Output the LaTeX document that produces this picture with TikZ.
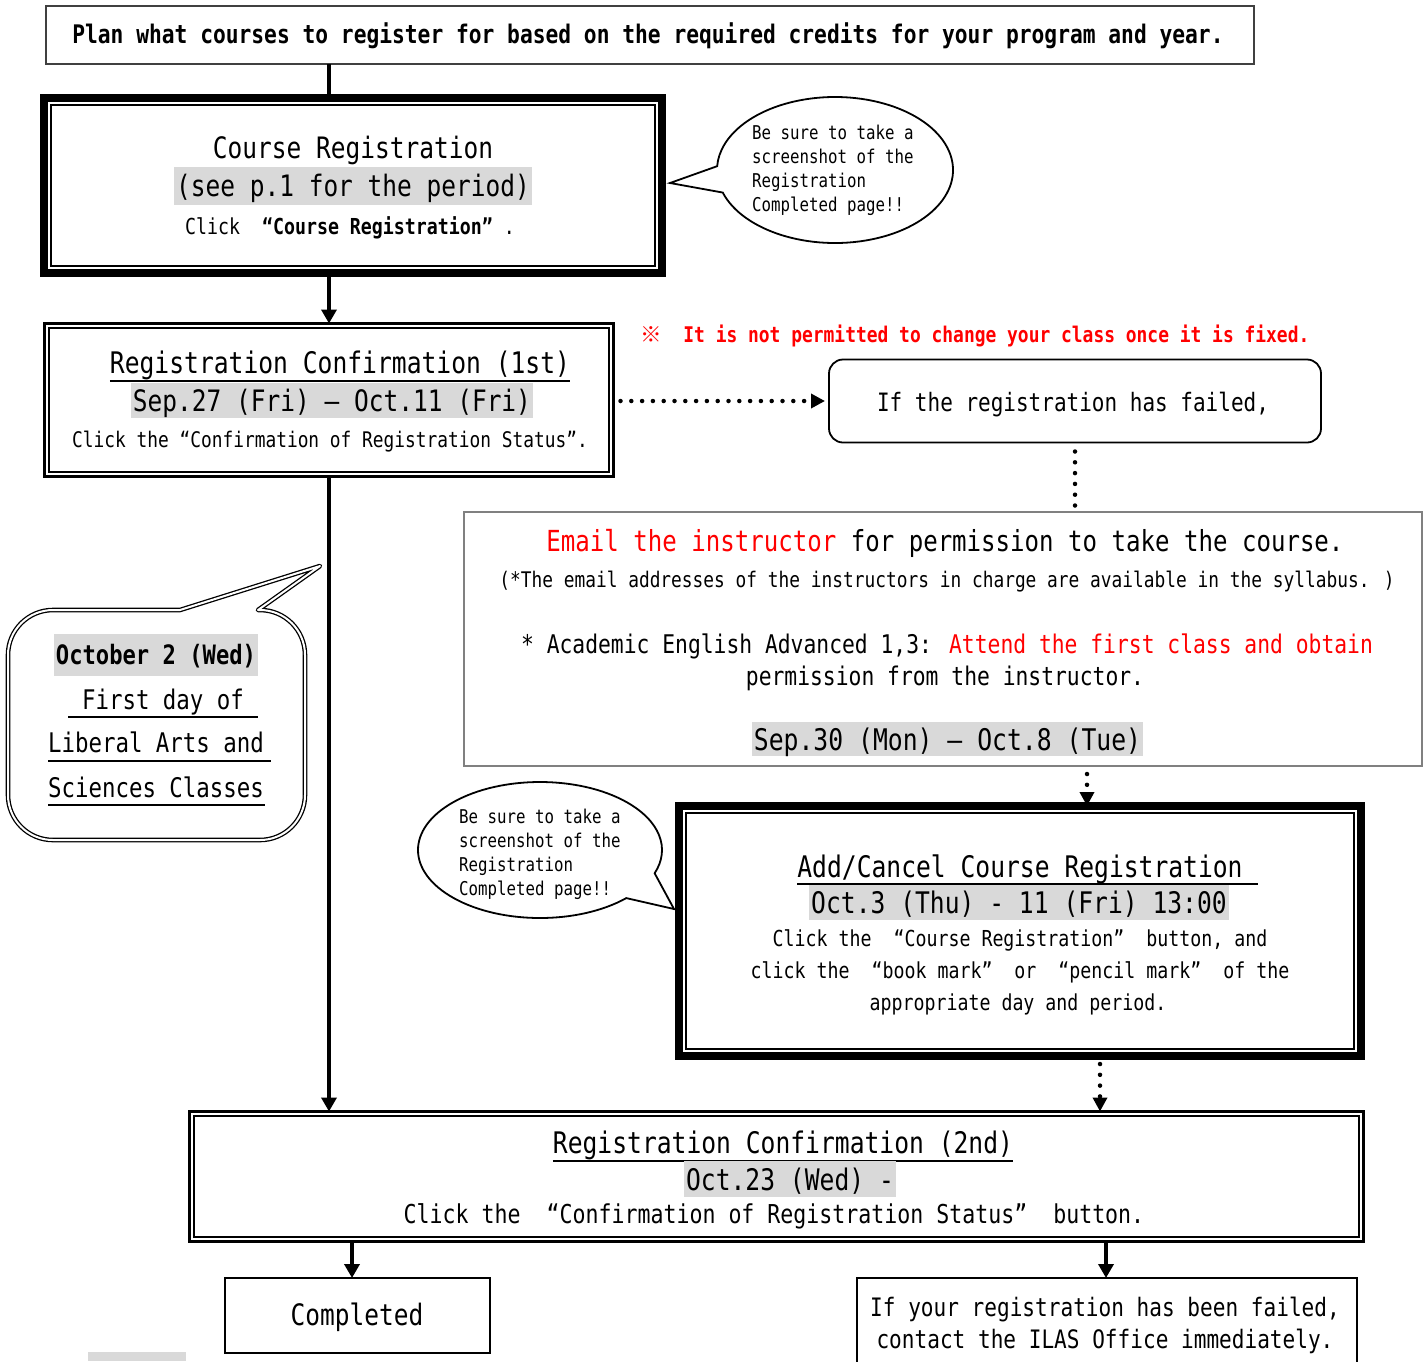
\documentclass[tikz,border=0pt]{standalone}
\usepackage{fontspec}
\setmainfont{DejaVu Sans Mono}[FakeStretch=0.83]
\newfontfamily\cjk{Noto Sans CJK JP}
\usetikzlibrary{arrows.meta,calc}
\definecolor{hlgray}{HTML}{D9D9D9}
\definecolor{boxgray}{HTML}{808080}
\definecolor{redtxt}{HTML}{FF0000}
\newcommand{\fsz}[1]{\fontsize{#1}{#1}\selectfont}
\begin{document}
\begin{tikzpicture}[x=1pt,y=-1pt,
  txt/.code={\pgfmathsetmacro\mytxth{0.85*#1}\pgfmathsetmacro\mytxtd{0.11*#1}%
    \tikzset{inner sep=0pt, font=\fsz{#1}, text height=\mytxth pt, text depth=\mytxtd pt}},
  hlbox/.style={fill=hlgray, inner xsep=2pt, inner ysep=4pt},
  boxnode/.style={inner sep=0pt, outer sep=0pt},
  thickframe/.style={boxnode, draw, line width=8pt},
  thinframe/.style={boxnode, draw, line width=1.5pt},
  dotline/.style={line width=4.5pt, dash pattern=on 0pt off 10.8pt, line cap=round},
  dotarrow/.style={dotline, -{Triangle[length=14pt,width=14pt]}},
  solidarrow/.style={line width=4pt, -{Triangle[length=14pt,width=15pt]}},
  uline/.style={line width=1.8pt},
  dblline/.style={draw, line width=1.3pt, double=white, double distance=2pt, line join=round},
]
\clip (0,0) rectangle (1427,1361);
\fill[white] (0,0) rectangle (1427,1361);

% ---------- top box
\node[boxnode, draw=black!75, line width=1.3pt, minimum width=1208pt, minimum height=58pt] (top) at (650,35) {};
\node[txt=25.6, font=\fsz{25.6}\bfseries] (toptxt) at (648,34) {Plan what courses to register for based on the required credits for your program and year.};

% ---------- course registration
\node[thickframe, minimum width=618pt, minimum height=175pt] (cr) at (353,185.5) {};
\node[thinframe, minimum width=604pt, minimum height=161pt] (crin) at (cr.center) {};
\node[txt=29.5] (cr1) at (353,148) {Course Registration};
\node[txt=29.5, hlbox, inner ysep=4.85pt] (cr2) at (353,186) {(see p.1 for the period)};
\node[txt=22] (cr3) at (350,226) {Click~ \textbf{“Course Registration”} .};

% ---------- callout 1
\coordinate (e1) at (835,170);
\coordinate (tip1) at (670,183);
\draw[line width=1.8pt, fill=white] ($(e1)+(162:118 and 73)$) arc[start angle=162, end angle=-177, x radius=118, y radius=73] -- (tip1) -- cycle;
\node[txt=19, anchor=west] (b1l1) at (752,132) {Be sure to take a};
\node[txt=19, anchor=west] (b1l2) at (752,156) {screenshot of the};
\node[txt=19, anchor=west] (b1l3) at (752,180) {Registration};
\node[txt=19, anchor=west] (b1l4) at (752,204) {Completed page!!};

% ---------- registration confirmation 1
\node[boxnode, draw, line width=3pt, minimum width=569pt, minimum height=153pt] (rc1) at (329,400) {};
\node[boxnode, draw, line width=1.8pt, minimum width=560pt, minimum height=144pt] (rc1in) at (rc1.center) {};
\node[txt=29.7] (rc1t) at (340,363) {Registration Confirmation (1st)};
\draw[uline] ([yshift=-7pt]rc1t.base west) -- ([yshift=-7pt]rc1t.base east);
\node[txt=29.5, hlbox, inner ysep=3.35pt] (rc1d) at (332,400.5) {Sep.27 (Fri) – Oct.11 (Fri)};
\node[txt=21.5] (rc1c) at (330,440) {Click the “Confirmation of Registration Status”.};

% ---------- red note
\node[txt=21.6, font=\fsz{21.6}\bfseries, text=redtxt, anchor=west] (note) at (640,334) {{\cjk ※}~~It is not permitted to change your class once it is fixed.};

% ---------- failed box
\node[boxnode, draw, line width=1.8pt, rounded corners=14pt, minimum width=492pt, minimum height=83pt] (fail) at (1075,401) {};
\node[txt=25.3] (failt) at (1073,402) {If the registration has failed,};
\draw[dotarrow, shorten >=4pt] ([xshift=7pt]rc1.east |- fail.west) -- (fail.west);

% ---------- email box
\node[boxnode, draw=boxgray, line width=2pt, minimum width=958pt, minimum height=254pt] (email) at (943,639) {};
\draw[dotline] ([yshift=-9pt]fail.south) -- ([yshift=4pt]fail.south |- email.north);
\node[txt=29] (em1) at (945,541) {\textcolor{redtxt}{Email the instructor} for permission to take the course.};
\node[txt=21.5] (em2) at (947,580) {(*The email addresses of the instructors in charge are available in the syllabus. )};
\node[txt=25.7] (em3) at (947,644) {* Academic English Advanced 1,3: \textcolor{redtxt}{Attend the first class and obtain}};
\node[txt=25.7] (em4) at (945,676) {permission from the instructor.};
\node[txt=29.8, hlbox, inner ysep=2.7pt] (em5) at (947.5,739) {Sep.30 (Mon) – Oct.8 (Tue)};

% ---------- left callout
\draw[dblline] (180,610) -- (320,566) -- (258,610) [rounded corners=45pt] -- (305,610) -- (305,840) -- (8,840) -- (8,610) [sharp corners] -- cycle;
\node[txt=26.7, font=\fsz{26.7}\bfseries, hlbox, inner ysep=8.2pt] (oct2) at (156,655) {October 2 (Wed)};
\node[txt=27] (fd) at (163,699) {First day of};
\node[txt=27] (la) at (156,742) {Liberal Arts and};
\node[txt=27] (sc) at (156,787) {Sciences Classes};
\draw[uline] (68,717) -- (258,717);
\draw[uline] (48,761) -- (271,761);
\draw[uline] (48,805) -- (265,805);

% ---------- main vertical connectors
\draw[line width=4pt] (rc1.north |- top.south) -- (rc1.north |- cr.north);
\draw[solidarrow] (rc1.north |- cr.south) -- (rc1.north);

% ---------- callout 2
\coordinate (e2) at (540,850);
\coordinate (tip2) at (674,909);
\draw[line width=1.8pt, fill=white] ($(e2)+(45:122 and 68)$) arc[start angle=45, end angle=380, x radius=122, y radius=68] -- (tip2) -- cycle;
\node[txt=19, anchor=west] (b2l1) at (459,816) {Be sure to take a};
\node[txt=19, anchor=west] (b2l2) at (459,840) {screenshot of the};
\node[txt=19, anchor=west] (b2l3) at (459,864) {Registration};
\node[txt=19, anchor=west] (b2l4) at (459,888) {Completed page!!};

% ---------- add / cancel box
\node[thickframe, minimum width=682pt, minimum height=250pt] (ac) at (1020,931) {};
\node[thinframe, minimum width=668pt, minimum height=236pt] (acin) at (ac.center) {};
\node[txt=29.7] (act) at (1020,866) {Add/Cancel Course Registration};
\draw[uline] ([yshift=-7pt]act.base west) -- ([xshift=15pt,yshift=-7pt]act.base east);
\node[txt=29.7, hlbox, inner ysep=3.25pt] (acd) at (1019,902.5) {Oct.3 (Thu) - 11 (Fri) 13:00};
\node[txt=22] (ac1) at (1020,938) {Click the~ “Course Registration”~ button, and};
\node[txt=22] (ac2) at (1020,970) {click the~ “book mark”~ or~ “pencil mark”~ of the};
\node[txt=22] (ac3) at (1018,1002) {appropriate day and period.};

\coordinate (xa) at (1087,0);
\draw[dotarrow] ([yshift=-8pt]email.south -| xa) -- (ac.north -| xa);

% ---------- registration confirmation 2
\node[boxnode, draw, line width=3pt, minimum width=1174pt, minimum height=130pt] (rc2) at (776.5,1176.5) {};
\node[boxnode, draw, line width=1.8pt, minimum width=1165pt, minimum height=121pt] (rc2in) at (rc2.center) {};
\node[txt=29.7] (rc2t) at (783,1142) {Registration Confirmation (2nd)};
\draw[uline] ([yshift=-8pt]rc2t.base west) -- ([yshift=-8pt]rc2t.base east);
\node[txt=29.7, hlbox, inner ysep=3.75pt] (rc2d) at (790,1179) {Oct.23 (Wed) -~};
\node[txt=26] (rc2c) at (774,1214) {Click the~ “Confirmation of Registration Status”~ button.};

\coordinate (xb) at (1100,0);
\draw[dotarrow] ([yshift=-8pt]ac.south -| xb) -- (rc2.north -| xb);
\draw[solidarrow] (rc1.south) -- (rc1.south |- rc2.north);

% ---------- bottom boxes
\node[boxnode, draw, line width=2pt, minimum width=265pt, minimum height=75pt] (comp) at (357.5,1315.5) {};
\node[txt=29.5] (compt) at (357,1315) {Completed};
\node[boxnode, draw, line width=2pt, minimum width=500pt, minimum height=100pt] (ilas) at (1107,1328) {};
\node[txt=25.4] (il1) at (1105,1307) {If your registration has been failed,};
\node[txt=25.4] (il2) at (1105,1339) {contact the ILAS Office immediately.};

\coordinate (xc) at (352,0);
\coordinate (xd) at (1106,0);
\draw[solidarrow] (rc2.south -| xc) -- (comp.north -| xc);
\draw[solidarrow] (rc2.south -| xd) -- (ilas.north -| xd);

\fill[hlgray] (88,1352) rectangle (186,1361);
\end{tikzpicture}
\end{document}
